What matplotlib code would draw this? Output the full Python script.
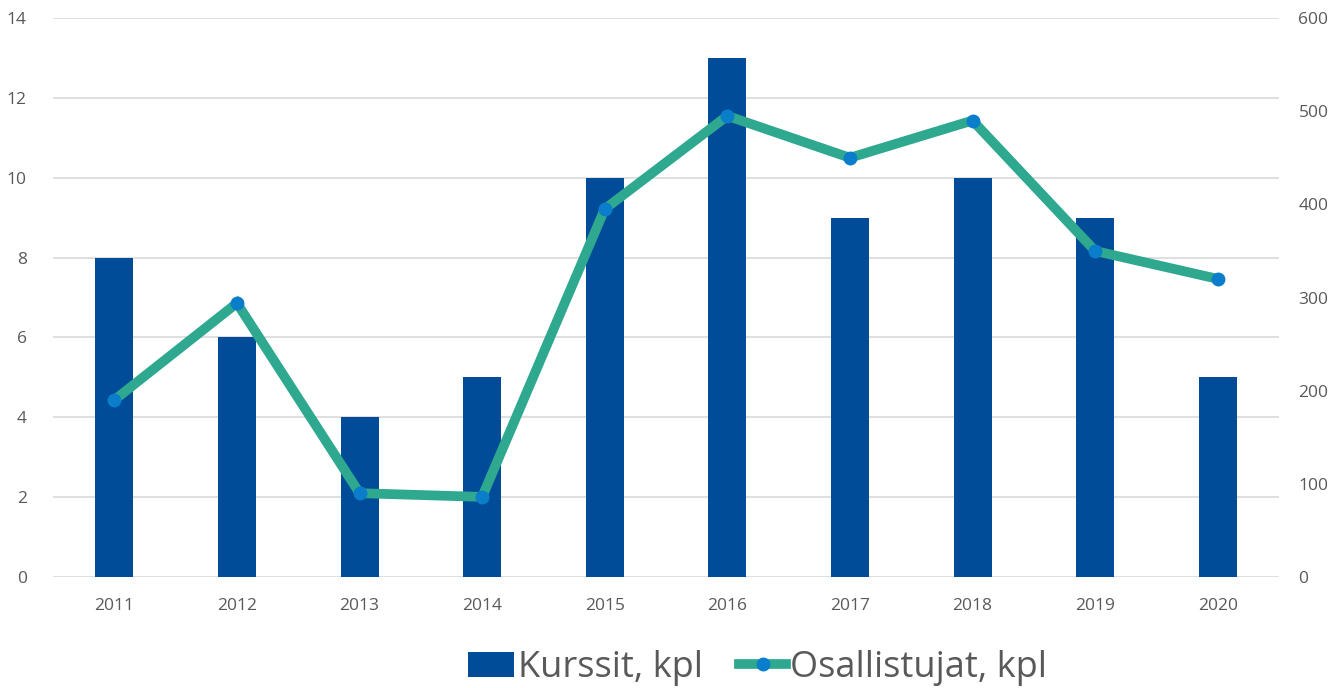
import matplotlib
matplotlib.use("Agg")
import matplotlib.pyplot as plt
import numpy as np

years = ["2011", "2012", "2013", "2014", "2015", "2016", "2017", "2018", "2019", "2020"]
kurssit = [8, 6, 4, 5, 10, 13, 9, 10, 9, 5]
osallistujat = [190, 294, 90, 86, 395, 495, 450, 490, 350, 320]

plt.rcParams['font.family'] = ['Open Sans', 'DejaVu Sans']
txt = '#595959'
bar_c = '#004C99'
line_c = '#2EA88F'
mark_c = '#0A7DCB'

fig = plt.figure(figsize=(13.33, 6.88), dpi=100)
ax = fig.add_axes([0.0398, 0.1613, 0.9197, 0.8125])
x = np.arange(len(years))
bars = ax.bar(x, kurssit, width=0.31, color=bar_c, zorder=2, label='Kurssit, kpl')
ax.set_ylim(0, 14)
ax.set_yticks(range(0, 15, 2))
ax.set_xlim(-0.5, len(years) - 0.5)
ax.set_xticks(x)
ax.set_xticklabels(years)
ax.grid(axis='y', color='#D9D9D9', linewidth=1.2, zorder=0)
ax.set_axisbelow(True)
for s in ax.spines.values():
    s.set_visible(False)
ax.tick_params(length=0, colors=txt, labelsize=12.5)
ax.tick_params(axis='y', pad=19)
ax.tick_params(axis='x', pad=15)

ax2 = ax.twinx()
ln, = ax2.plot(x, osallistujat, color=line_c, linewidth=7, marker='o', markersize=9,
               markerfacecolor=mark_c, markeredgecolor=mark_c, solid_joinstyle='miter',
               zorder=3, label='Osallistujat, kpl')
ax2.set_ylim(0, 600)
ax2.set_yticks(range(0, 601, 100))
for s in ax2.spines.values():
    s.set_visible(False)
ax2.tick_params(length=0, colors=txt, labelsize=12.5, pad=14)

leg = fig.legend(handles=[bars, ln], loc='center', bbox_to_anchor=(0.568, 1 - 668 / 688),
                 ncol=2, frameon=False, fontsize=26, handlelength=1.3, handletextpad=0.1,
                 columnspacing=1.0, labelcolor=txt)

fig.savefig('out.png', dpi=100)
